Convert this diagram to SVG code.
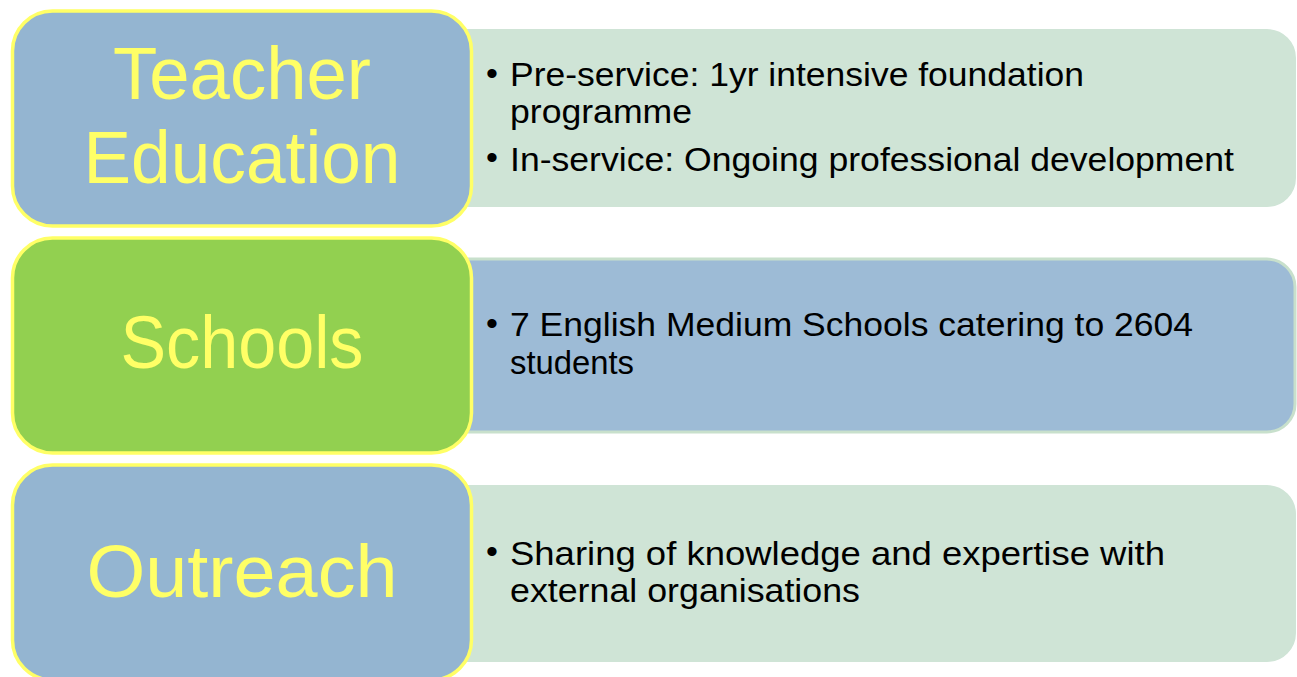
<svg xmlns="http://www.w3.org/2000/svg" width="1297" height="677" viewBox="0 0 1297 677">
  <style>
    .lbox { stroke: #ffff66; stroke-width: 3.5; }
    .lblue { fill: #94b5d1; }
    .lgreen { fill: #92d050; }
    .rgreen { fill: #cfe4d6; stroke: #cfe4d6; stroke-width: 2; }
    .rblue { fill: #9dbbd6; stroke: #c8e0cc; stroke-width: 3; }
    .label { font-family: "Liberation Sans", Arial, sans-serif; font-size: 75px; fill: #ffff66; text-anchor: middle; }
    .item { font-family: "Liberation Sans", Arial, sans-serif; font-size: 33px; fill: #000000; }
    .bullet { font-family: "Liberation Sans", Arial, sans-serif; font-size: 34px; fill: #000000; text-anchor: middle; }
  </style>
  <rect width="1297" height="677" fill="#ffffff"/>
  <g id="connectors"/>

  <g id="detail-teacher-education">
    <rect class="rgreen" x="440" y="30" width="855" height="176" rx="28"/>
    <text class="bullet" x="492" y="85">•</text>
    <text class="item" x="510" y="86" textLength="574" lengthAdjust="spacingAndGlyphs">Pre-service: 1yr intensive foundation</text>
    <text class="item" x="510" y="123" textLength="182" lengthAdjust="spacingAndGlyphs">programme</text>
    <text class="bullet" x="492" y="169">•</text>
    <text class="item" x="510" y="171" textLength="724" lengthAdjust="spacingAndGlyphs">In-service: Ongoing professional development</text>
  </g>

  <g id="detail-schools">
    <rect class="rblue" x="440" y="259" width="855" height="173" rx="28"/>
    <text class="bullet" x="492" y="335">•</text>
    <text class="item" x="510" y="336" textLength="683" lengthAdjust="spacingAndGlyphs">7 English Medium Schools catering to 2604</text>
    <text class="item" x="510" y="374" textLength="124" lengthAdjust="spacingAndGlyphs">students</text>
  </g>

  <g id="detail-outreach">
    <rect class="rgreen" x="440" y="486" width="855" height="175" rx="28"/>
    <text class="bullet" x="492" y="563">•</text>
    <text class="item" x="510" y="565" textLength="655" lengthAdjust="spacingAndGlyphs">Sharing of knowledge and expertise with</text>
    <text class="item" x="510" y="602" textLength="350" lengthAdjust="spacingAndGlyphs">external organisations</text>
  </g>

  <g id="node-teacher-education">
    <rect class="lbox lblue" x="12.5" y="11" width="459" height="215" rx="40"/>
    <text class="label" x="242" y="99" textLength="258" lengthAdjust="spacingAndGlyphs">Teacher</text>
    <text class="label" x="242" y="183" textLength="317" lengthAdjust="spacingAndGlyphs">Education</text>
  </g>

  <g id="node-schools">
    <rect class="lbox lgreen" x="12.5" y="238" width="459" height="215" rx="40"/>
    <text class="label" x="242" y="368" textLength="243" lengthAdjust="spacingAndGlyphs">Schools</text>
  </g>

  <g id="node-outreach">
    <rect class="lbox lblue" x="12.5" y="465" width="459" height="215" rx="40"/>
    <text class="label" x="242" y="597" textLength="311" lengthAdjust="spacingAndGlyphs">Outreach</text>
  </g>
</svg>
